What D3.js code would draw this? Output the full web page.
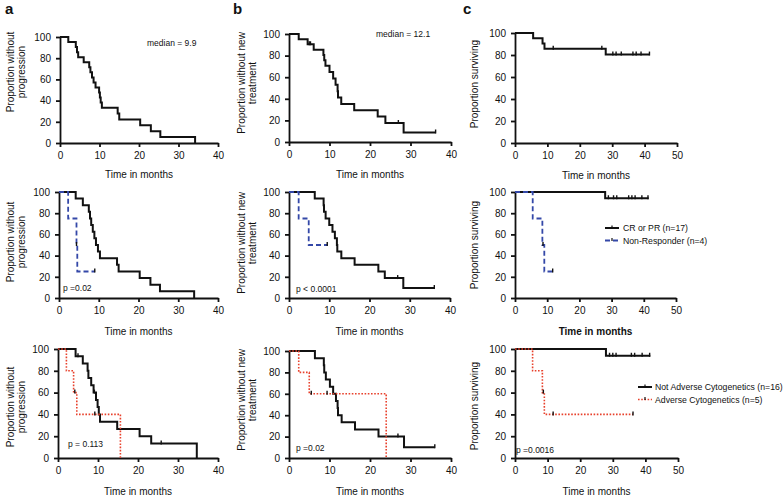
<!DOCTYPE html>
<html>
<head>
<meta charset="utf-8">
<script src="https://cdn.jsdelivr.net/npm/d3@7"></script>
<style>
  body { margin: 0; background: #fff; }
  svg { font-family: Arial, "Liberation Sans", sans-serif; }
</style>
</head>
<body>
<svg id="fig" width="784" height="497"></svg>
<script>
// Kaplan-Meier steps: [month, percent]. Last point = end of follow-up.
const yTicks = [0, 20, 40, 60, 80, 100];
const xTicks40 = [0, 10, 20, 30, 40];
const xTicks50 = [0, 10, 20, 30, 40, 50];

// a: progression-free
const pfsAll = [[0,100],[2.1,95.2],[4.0,90.5],[4.3,85.7],[4.6,81.0],[6.0,76.2],[7.4,71.4],[7.7,66.7],[8.1,61.9],[8.5,57.1],[9.0,52.4],[9.9,47.6],[10.1,42.9],[10.3,38.1],[10.6,33.3],[14.6,27.8],[15.0,22.2],[20.3,16.7],[23.0,11.1],[25.4,5.6],[34.2,0]];
const pfsResp = [[0,100],[4.2,93.8],[6.0,87.5],[7.5,81.3],[7.8,75],[8.1,68.8],[8.5,62.5],[8.9,56.3],[9.3,50],[9.8,43.8],[10.3,37.5],[14.6,31.3],[15.0,25],[20.3,18.8],[23.0,12.5],[25.4,6.3],[34.0,0]];
const pfsNonResp = [[0,100],[2.3,75],[4.4,50],[4.6,25],[9.0,25]];
const pfsNonRespCens = [[4.4,50],[9.0,25]];
const pfsNotAdv = [[0,100],[4.4,93.3],[6.2,86.7],[7.4,80],[7.6,73.3],[8.3,66.7],[8.9,60],[9.5,53.3],[9.9,46.7],[10.2,40],[10.5,33.3],[14.8,26.7],[20.4,20],[23.3,13.3],[34.7,0]];
const pfsNotAdvCens = [[5.0,93.3],[9.1,60],[25.8,13.3]];
const pfsAdv = [[0,100],[2.1,80],[3.9,60],[4.7,40],[15.6,0]];
const pfsAdvCens = [[4.2,60],[9.2,40]];

// b: time to new treatment
const ttnAll = [[0,100],[2.4,95.2],[4.6,90.5],[6.1,85.4],[8.5,80.5],[8.7,75.6],[9.0,70.7],[10.0,64.8],[10.9,58.9],[11.5,53.0],[12.0,47.1],[12.1,41.2],[12.9,35.3],[16.1,29.4],[21.9,23.5],[23.8,17.6],[28.3,8.8],[36.2,8.8]];
const ttnAllCens = [[5.0,90.5],[5.3,90.5],[27.0,17.6],[36.2,8.8]];
const ttnResp = [[0,100],[6.4,93.8],[8.6,87.5],[8.7,81.3],[9.1,75],[10.0,68.8],[10.8,62.5],[11.4,56.3],[11.9,50],[12.0,43.8],[13.0,37.5],[16.3,31.3],[22.2,25],[23.8,18.8],[28.4,9.4],[36.1,9.4]];
const ttnRespCens = [[27.0,18.8],[36.1,9.4]];
const ttnNonResp = [[0,100],[2.4,75],[4.9,50],[9.5,50]];
const ttnNonRespCens = [[9.5,50]];
const ttnNotAdv = [[0,100],[6.4,93.3],[8.6,86.7],[8.7,80],[9.1,73.3],[10.1,66.7],[10.9,60],[11.6,53.3],[12.0,46.7],[12.1,40],[13.0,33.3],[16.3,26.7],[22.1,20],[28.4,10],[36.0,10]];
const ttnNotAdvCens = [[26.9,20],[36.0,10]];
const ttnAdv = [[0,100],[2.4,80],[5.0,60],[24.0,0]];
const ttnAdvCens = [[5.5,60],[9.4,60]];

// c: overall survival
const osAll = [[0,100],[5.6,95.2],[8.5,90.5],[9.1,85.7],[28.0,80.4],[41.5,80.4]];
const osAllCens = [[11.8,85.7],[26.8,85.7],[30.2,80.4],[31.2,80.4],[32.8,80.4],[36.4,80.4],[37.4,80.4],[38.9,80.4],[41.5,80.4]];
const osResp = [[0,100],[28.0,94.1],[41.5,94.1]];
const osRespCens = [[29.0,94.1],[30.6,94.1],[31.6,94.1],[35.3,94.1],[36.3,94.1],[37.3,94.1],[39.4,94.1],[41.3,94.1]];
const osNonResp = [[0,100],[5.5,75],[8.5,50],[9.1,25],[11.7,25]];
const osNonRespCens = [[8.7,50],[11.7,25]];
const osNotAdv = [[0,100],[27.9,93.8],[41.5,93.8]];
const osNotAdvCens = [[29.0,93.8],[30.0,93.8],[31.0,93.8],[35.7,93.8],[36.7,93.8],[39.0,93.8],[41.3,93.8]];
const osAdv = [[0,100],[5.4,80],[8.4,60],[9.0,40],[36.2,40]];
const osAdvCens = [[8.7,60],[11.7,40],[36.2,40]];

const legendResp = ["CR or PR (n=17)", "Non-Responder (n=4)"];
const legendCyto = ["Not Adverse Cytogenetics (n=16)", "Adverse Cytogenetics (n=5)"];

const BLACK = "#111", BLUE = "#3448a8", RED = "#e8412c";
const solid = (pts, cens) => ({ pts, cens: cens || [], color: BLACK, dash: null, w: 2 });
const blue = (pts, cens) => ({ pts, cens: cens || [], color: BLUE, dash: "5,3", w: 1.8 });
const red = (pts, cens) => ({ pts, cens: cens || [], color: RED, dash: "1.6,1.6", w: 1.6 });

const yTitleA = ["Proportion without", "progression"];
const yTitleB = ["Proportion without new", "treatment"];
const yTitleC = ["Proportion surviving"];

const panels = [
  { left: 60, right: 218, top: 37, bottom: 143, xMax: 40, ticks: xTicks40, title: yTitleA, tx: 13.5, ty: 72, xt: 177.5,
    series: [solid(pfsAll)], note: { text: "median = 9.9", x: 147, y: 46 } },
  { left: 289, right: 451, top: 34, bottom: 142, xMax: 40, ticks: xTicks40, title: yTitleB, tx: 244.5, ty: 83, xt: 177.5,
    series: [solid(ttnAll, ttnAllCens)], note: { text: "median = 12.1", x: 376, y: 37 } },
  { left: 515, right: 677, top: 33, bottom: 143, xMax: 50, ticks: xTicks50, title: yTitleC, tx: 477.5, ty: 84, xt: 179,
    series: [solid(osAll, osAllCens)] },

  { left: 59, right: 218, top: 192, bottom: 298, xMax: 40, ticks: xTicks40, title: yTitleA, tx: 13.5, ty: 242, xt: 334.5,
    series: [solid(pfsResp), blue(pfsNonResp, pfsNonRespCens)], note: { text: "p =0.02", x: 63, y: 291 } },
  { left: 289, right: 450, top: 192, bottom: 298, xMax: 40, ticks: xTicks40, title: yTitleB, tx: 244.5, ty: 243, xt: 334.5,
    series: [solid(ttnResp, ttnRespCens), blue(ttnNonResp, ttnNonRespCens)], note: { text: "p < 0.0001", x: 296, y: 292 } },
  { left: 515, right: 676, top: 192, bottom: 298, xMax: 50, ticks: xTicks50, title: yTitleC, tx: 477.5, ty: 245, xt: 334.5, boldX: true,
    series: [solid(osResp, osRespCens), blue(osNonResp, osNonRespCens)],
    legend: { labels: legendResp, x: 605, y: 228, len: 14, gap: 4, styles: ["solid", "blue"] } },

  { left: 58, right: 218, top: 349, bottom: 458, xMax: 40, ticks: xTicks40, title: yTitleA, tx: 13.5, ty: 407, xt: 494.5,
    series: [solid(pfsNotAdv, pfsNotAdvCens), red(pfsAdv, pfsAdvCens)], note: { text: "p = 0.113", x: 68, y: 447 } },
  { left: 289, right: 451, top: 351, bottom: 458, xMax: 40, ticks: xTicks40, title: yTitleB, tx: 244.5, ty: 400, xt: 494.5,
    series: [solid(ttnNotAdv, ttnNotAdvCens), red(ttnAdv, ttnAdvCens)], note: { text: "p =0.02", x: 296, y: 451 } },
  { left: 515, right: 678, top: 349, bottom: 458, xMax: 50, ticks: xTicks50, title: yTitleC, tx: 477.5, ty: 406, xt: 494.5,
    series: [solid(osNotAdv, osNotAdvCens), red(osAdv, osAdvCens)], note: { text: "p =0.0016", x: 516, y: 453 },
    legend: { labels: legendCyto, x: 638, y: 387, len: 14, gap: 3, styles: ["solid", "red"] } }
];

const svg = d3.select("#fig");

function drawPanel(p) {
  const x = d3.scaleLinear().domain([0, p.xMax]).range([p.left, p.right]);
  const y = d3.scaleLinear().domain([0, 100]).range([p.bottom, p.top]);
  const g = svg.append("g");

  // axes
  const ya = g.append("g").attr("transform", `translate(${p.left},0)`)
    .call(d3.axisLeft(y).tickValues(yTicks).tickSize(4).tickSizeOuter(0).tickPadding(5));
  const xa = g.append("g").attr("transform", `translate(0,${p.bottom})`)
    .call(d3.axisBottom(x).tickValues(p.ticks).tickSize(4).tickSizeOuter(0).tickPadding(5));
  [ya, xa].forEach(a => {
    a.selectAll("path, line").attr("stroke", BLACK).attr("stroke-width", 1.8);
    a.selectAll("text").attr("font-size", 10).attr("fill", "#111")
      .attr("font-family", "Arial, 'Liberation Sans', sans-serif");
  });

  // curves
  const line = d3.line().x(d => x(d[0])).y(d => y(d[1])).curve(d3.curveStepAfter);
  p.series.forEach(s => {
    g.append("path").datum(s.pts)
      .attr("fill", "none")
      .attr("stroke", s.color)
      .attr("stroke-width", s.w)
      .attr("stroke-dasharray", s.dash)
      .attr("d", line);
    g.selectAll(null).data(s.cens).enter().append("line")
      .attr("x1", d => x(d[0])).attr("x2", d => x(d[0]))
      .attr("y1", d => y(d[1]) - 3).attr("y2", d => y(d[1]) + 1)
      .attr("stroke", BLACK).attr("stroke-width", 1.4);
  });

  // titles
  const t = g.append("text")
    .attr("transform", `translate(${p.tx},${p.ty}) rotate(-90)`)
    .attr("text-anchor", "middle").attr("font-size", 10).attr("fill", "#111");
  p.title.forEach((s, i) => t.append("tspan").attr("x", 0).attr("y", i * 11).text(s));

  g.append("text")
    .attr("x", (p.left + p.right) / 2).attr("y", p.xt)
    .attr("text-anchor", "middle").attr("font-size", 10).attr("fill", "#111")
    .attr("font-weight", p.boldX ? "bold" : null)
    .text("Time in months");

  if (p.note) {
    g.append("text").attr("x", p.note.x).attr("y", p.note.y)
      .attr("font-size", 8.5).attr("fill", "#111").text(p.note.text);
  }

  if (p.legend) {
    const L = p.legend;
    L.labels.forEach((lab, i) => {
      const s = L.styles[i] === "solid" ? solid([]) : (L.styles[i] === "blue" ? blue([]) : red([]));
      const cy = L.y + i * 12.5;
      g.append("line").attr("x1", L.x).attr("x2", L.x + L.len).attr("y1", cy).attr("y2", cy)
        .attr("stroke", s.color).attr("stroke-width", s.w).attr("stroke-dasharray", s.dash);
      g.append("line").attr("x1", L.x + L.len / 2).attr("x2", L.x + L.len / 2)
        .attr("y1", cy - 2.5).attr("y2", cy + 0.5).attr("stroke", BLACK).attr("stroke-width", 1.2);
      g.append("text").attr("x", L.x + L.len + L.gap).attr("y", cy + 3)
        .attr("font-size", 8.7).attr("fill", "#111").text(lab);
    });
  }
}

panels.forEach(drawPanel);

// panel letters
const letters = [["a", 5, 14], ["b", 233, 14], ["c", 463, 14]];
svg.selectAll(".letter").data(letters).enter().append("text")
  .attr("class", "letter")
  .attr("x", d => d[1]).attr("y", d => d[2])
  .attr("font-size", 15).attr("font-weight", "bold").attr("fill", "#111")
  .text(d => d[0]);
</script>
</body>
</html>
